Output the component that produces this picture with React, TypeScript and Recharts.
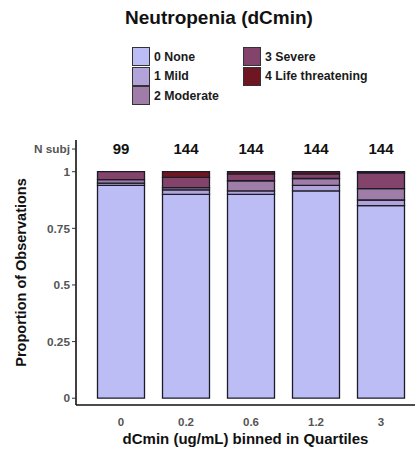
import React from "react";
import { ComposedChart, Bar, Line, XAxis, YAxis, Legend, LabelList, Label } from "recharts";

const bins = ["0", "0.2", "0.6", "1.2", "3"];
const nSubj = [99, 144, 144, 144, 144];
const gradeNone = [0.94, 0.9, 0.9, 0.915, 0.85];
const gradeMild = [0.01, 0.02, 0.015, 0.025, 0.025];
const gradeModerate = [0.015, 0.01, 0.045, 0.03, 0.05];
const gradeSevere = [0.035, 0.045, 0.03, 0.02, 0.07];
const gradeLife = [0, 0.025, 0.01, 0.01, 0.005];
const nLabelLevel = 1.1;

const seriesNames = ["0 None", "1 Mild", "2 Moderate", "3 Severe", "4 Life threatening"];
const seriesKeys = ["g0", "g1", "g2", "g3", "g4"];
const seriesColors = ["#BDBDF6", "#B2A4DB", "#A07CA8", "#83436B", "#6E1722"];
const yTicks = [0, 0.25, 0.5, 0.75, 1, 1.1];

const data = bins.map((b, i) => ({
  bin: b,
  g0: gradeNone[i],
  g1: gradeMild[i],
  g2: gradeModerate[i],
  g3: gradeSevere[i],
  g4: gradeLife[i],
  n: nSubj[i],
  ny: nLabelLevel,
}));

const FONT = "'Liberation Sans', Arial, Helvetica, sans-serif";

const LegendBox = () => {
  const item = (i: number) => (
    <div key={i} style={{ display: "flex", alignItems: "center", height: 19.5 }}>
      <div
        style={{
          width: 16,
          height: 17,
          background: seriesColors[i],
          border: "1.3px solid #333",
          boxSizing: "content-box",
        }}
      />
      <span style={{ marginLeft: 4, fontWeight: 700, fontSize: 12.3, color: "#1a1a1a" }}>
        {seriesNames[i]}
      </span>
    </div>
  );
  return (
    <div style={{ display: "flex", fontFamily: FONT }}>
      <div style={{ width: 111 }}>{[0, 1, 2].map(item)}</div>
      <div>{[3, 4].map(item)}</div>
    </div>
  );
};

const NLabel = (props: any) => {
  const { x, y, value } = props;
  return (
    <text
      x={x}
      y={y + 5}
      textAnchor="middle"
      fontFamily={FONT}
      fontWeight={700}
      fontSize={15}
      fill="#111"
    >
      {value}
    </text>
  );
};

export default function App() {
  return (
    <div
      style={{
        position: "absolute",
        left: 0,
        top: 0,
        width: 417,
        height: 450,
        background: "#fff",
        fontFamily: FONT,
      }}
    >
      <div
        style={{
          position: "absolute",
          top: 7,
          left: 0,
          width: 438,
          textAlign: "center",
          fontWeight: 700,
          fontSize: 19,
          lineHeight: "22px",
          color: "#111",
        }}
      >
        Neutropenia (dCmin)
      </div>
      <ComposedChart
        width={417}
        height={450}
        data={data}
        margin={{ top: 140, right: 2, left: 0, bottom: 0 }}
      >
        <XAxis
          dataKey="bin"
          type="category"
          height={45}
          padding={{ left: 12.5, right: 1.5 }}
          axisLine={{ stroke: "#111", strokeWidth: 1.6 }}
          tickLine={false}
          tick={{ fill: "#555", fontSize: 11.5, fontWeight: 700, fontFamily: FONT }}
          tickMargin={7}
        >
          <Label
            value="dCmin (ug/mL) binned in Quartiles"
            position="insideBottom"
            offset={6}
            style={{ fill: "#111", fontSize: 15, fontWeight: 700, fontFamily: FONT }}
          />
        </XAxis>
        <YAxis
          type="number"
          width={76}
          domain={[-0.03, 1.14]}
          allowDataOverflow
          ticks={yTicks}
          interval={0}
          tickFormatter={(v: number) => (v === nLabelLevel ? "N subj" : String(v))}
          axisLine={{ stroke: "#111", strokeWidth: 1.6 }}
          tickLine={{ stroke: "#333", strokeWidth: 1 }}
          tickSize={4}
          tickMargin={2}
          tick={{ fill: "#555", fontSize: 11.8, fontWeight: 700, fontFamily: FONT }}
        >
          <Label
            value="Proportion of Observations"
            angle={-90}
            position="insideLeft"
            offset={21}
            style={{ fill: "#111", fontSize: 14.5, fontWeight: 700, fontFamily: FONT, textAnchor: "middle" }}
          />
        </YAxis>
        {seriesKeys.map((k, i) => (
          <Bar
            key={k}
            dataKey={k}
            name={seriesNames[i]}
            stackId="a"
            fill={seriesColors[i]}
            stroke="#1c1c28"
            strokeWidth={1.3}
            barSize={47}
            isAnimationActive={false}
          />
        ))}
        <Line
          dataKey="ny"
          stroke="none"
          dot={false}
          activeDot={false}
          legendType="none"
          isAnimationActive={false}
        >
          <LabelList dataKey="n" content={NLabel} />
        </Line>
        <Legend
          layout="vertical"
          align="center"
          verticalAlign="middle"
          content={() => <LegendBox />}
          wrapperStyle={{ position: "absolute", top: 47, left: 132, width: 270, height: 62 }}
        />
      </ComposedChart>
    </div>
  );
}
